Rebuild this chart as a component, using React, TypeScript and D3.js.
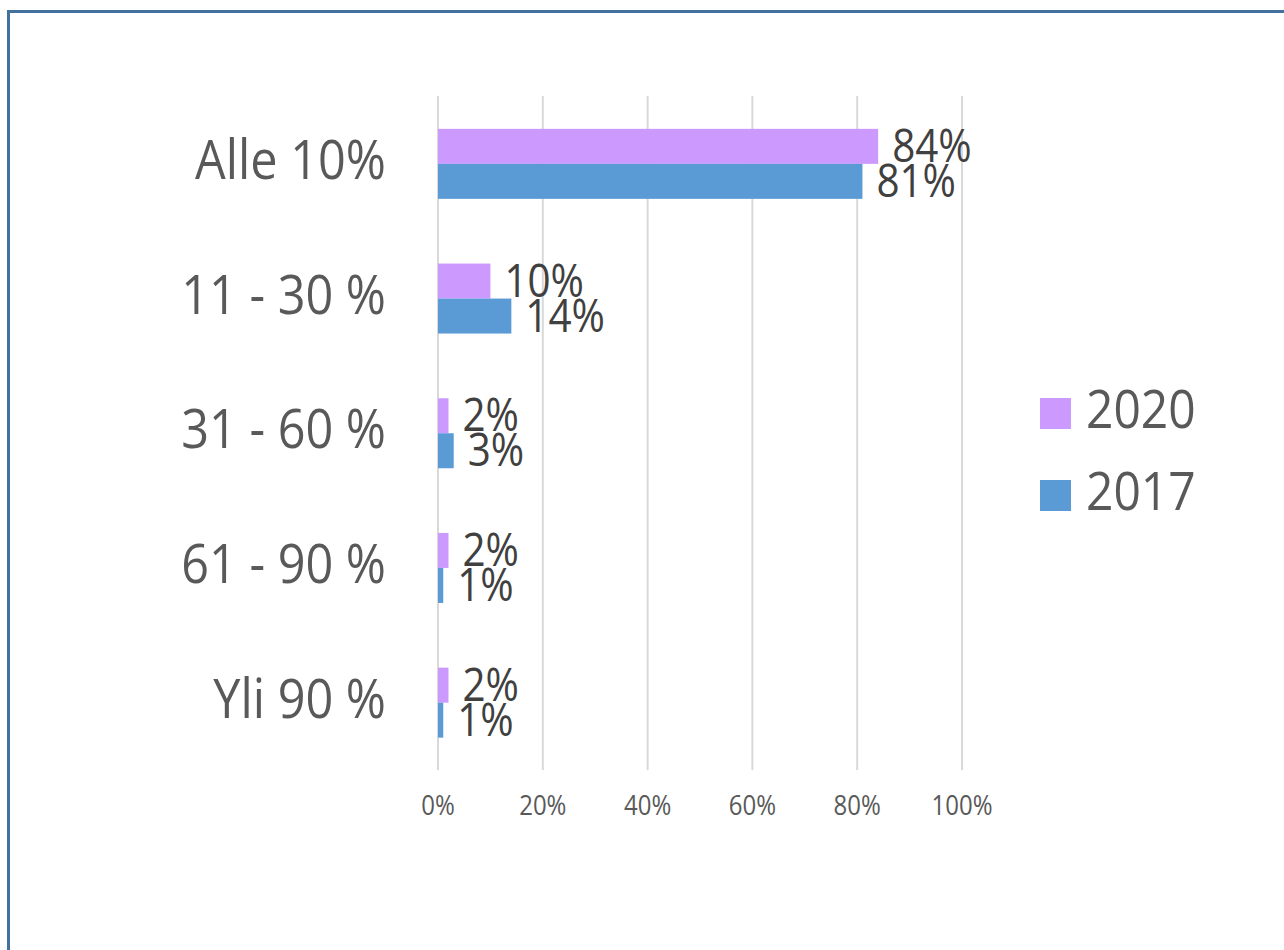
import React from "react";
import * as d3 from "d3";

const categories = ["Alle 10%", "11 - 30 %", "31 - 60 %", "61 - 90 %", "Yli 90 %"];
const seriesNames = ["2020", "2017"];
const values2020 = [84, 10, 2, 2, 2];
const values2017 = [81, 14, 3, 1, 1];
const xTicks = [0, 20, 40, 60, 80, 100];
const colors = ["#CC99FF", "#5B9BD5"];

const W = 1284;
const H = 950;
const FONT = "'Open Sans', 'DejaVu Sans', sans-serif";

function SText({ x, y, size, sy = 1.13, sx = 1, anchor = "start", fill, children }: any) {
  return (
    <text
      transform={`translate(${x},${y}) scale(${sx},${sy})`}
      fontSize={size}
      fontFamily={FONT}
      textAnchor={anchor}
      fill={fill}
    >
      {children}
    </text>
  );
}

export default function App() {
  const x = d3.scaleLinear().domain([0, 100]).range([438, 962]);
  const y = d3.scaleBand().domain(categories).range([96.5, 770]).paddingInner(0).paddingOuter(0);
  const barH = 35;
  const series = [values2020, values2017];

  return (
    <svg
      width={W}
      height={H}
      style={{ position: "fixed", left: 0, top: 0, background: "#fff" }}
    >
      <rect x={0} y={0} width={W} height={H} fill="#fff" />
      <path d={`M8.5,${H + 10} L8.5,11.5 L${W + 10},11.5`} fill="none" stroke="#41719C" strokeWidth={3} />
      {xTicks.map((t) => (
        <line key={t} x1={x(t)} x2={x(t)} y1={96} y2={770} stroke="#D9D9D9" strokeWidth={2} />
      ))}
      {xTicks.map((t) => (
        <SText key={"t" + t} x={x(t)} y={815} size={24} sy={1.17} anchor="middle" fill="#595959">
          {t + "%"}
        </SText>
      ))}
      {categories.map((c, i) => {
        const c0 = (y(c) as number) + y.bandwidth() / 2;
        return (
          <g key={c}>
            <SText x={386} y={c0 + 15} size={48.6} sy={1.13} anchor="end" fill="#595959">
              {c}
            </SText>
            {series.map((vals, s) => {
              const top = c0 - barH + s * barH;
              const v = vals[i];
              return (
                <g key={s}>
                  <rect x={x(0)} y={top} width={x(v) - x(0)} height={barH} fill={colors[s]} />
                  <SText x={x(v) + 14} y={top + barH / 2 + 15.5} size={40.4} sy={1.11} fill="#404040">
                    {v + "%"}
                  </SText>
                </g>
              );
            })}
          </g>
        );
      })}
      {seriesNames.map((n, i) => (
        <g key={n}>
          <rect x={1040} y={398 + i * 82} width={31} height={31} fill={colors[i]} />
          <SText x={1086} y={428 + i * 82} size={48} sy={1.11} fill="#595959">
            {n}
          </SText>
        </g>
      ))}
    </svg>
  );
}
